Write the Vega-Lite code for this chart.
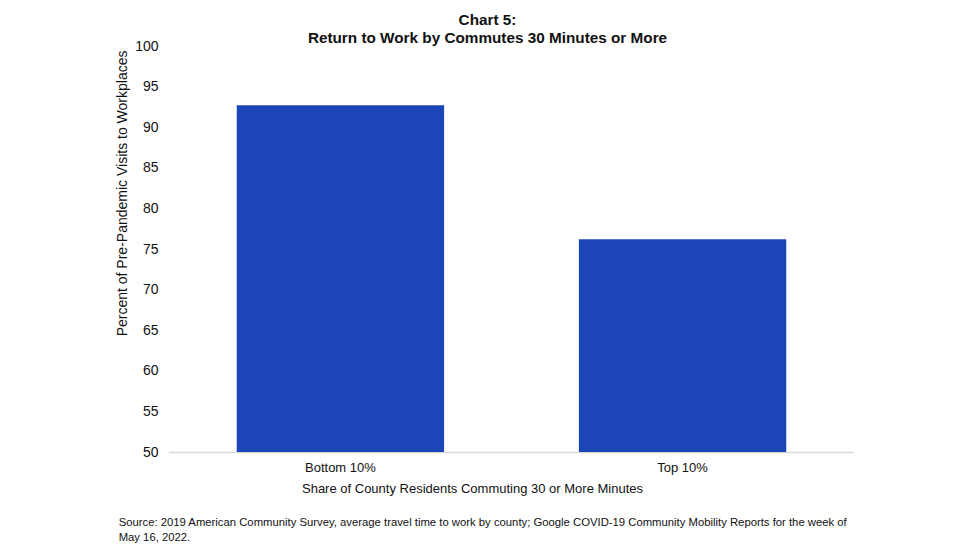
{
  "$schema": "https://vega.github.io/schema/vega-lite/v6.json",
  "padding": {"left": 115, "top": 12, "right": 0, "bottom": 0},
  "background": "white",
  "config": {
    "font": "Liberation Sans",
    "view": {"stroke": null},
    "concat": {"spacing": 0}
  },
  "title": {
    "text": ["Source: 2019 American Community Survey, average travel time to work by county; Google COVID-19 Community Mobility Reports for the week of", "May 16, 2022."],
    "orient": "bottom",
    "anchor": "start",
    "font": "Liberation Sans",
    "fontSize": 11.3,
    "fontWeight": "normal",
    "color": "#111",
    "lineHeight": 15,
    "offset": 22,
    "dx": 3
  },
  "data": {
    "values": [
      {"group": "Bottom 10%", "value": 92.7},
      {"group": "Top 10%", "value": 76.2}
    ]
  },
  "vconcat": [
    {
      "title": {
        "text": ["Chart 5:", "Return to Work by Commutes 30 Minutes or More"],
        "fontSize": 15.3,
        "fontWeight": "bold",
        "lineHeight": 18,
        "color": "#111",
        "anchor": "middle",
        "dx": -24,
        "offset": -7
      },
      "width": 685,
      "height": 406,
      "mark": {"type": "bar", "color": "#1c45ba"},
      "encoding": {
        "x": {
          "field": "group",
          "type": "nominal",
          "sort": null,
          "scale": {"paddingInner": 0.394, "paddingOuter": 0.198},
          "axis": {
            "title": "Share of County Residents Commuting 30 or More Minutes",
            "titleFontSize": 13,
            "titleFontWeight": "normal",
            "titleColor": "#111",
            "titleX": 303,
            "titlePadding": 8,
            "labelAngle": 0,
            "labelFontSize": 13,
            "labelColor": "#111",
            "labelPadding": 9,
            "domainColor": "#d9d9d9",
            "domainWidth": 1.5,
            "ticks": false
          }
        },
        "y": {
          "field": "value",
          "type": "quantitative",
          "scale": {"domain": [50, 100], "nice": false, "zero": false},
          "axis": {
            "title": "Percent of Pre-Pandemic Visits to Workplaces",
            "titleFontSize": 14,
            "titleFontWeight": "normal",
            "titleColor": "#111",
            "titleAnchor": "end",
            "titleY": 4,
            "titlePadding": 5,
            "values": [50, 55, 60, 65, 70, 75, 80, 85, 90, 95, 100],
            "labelFontSize": 14,
            "labelColor": "#111",
            "labelPadding": 11,
            "grid": false,
            "domain": false,
            "ticks": false
          }
        },
        "y2": {"datum": 50}
      }
    }
  ]
}
